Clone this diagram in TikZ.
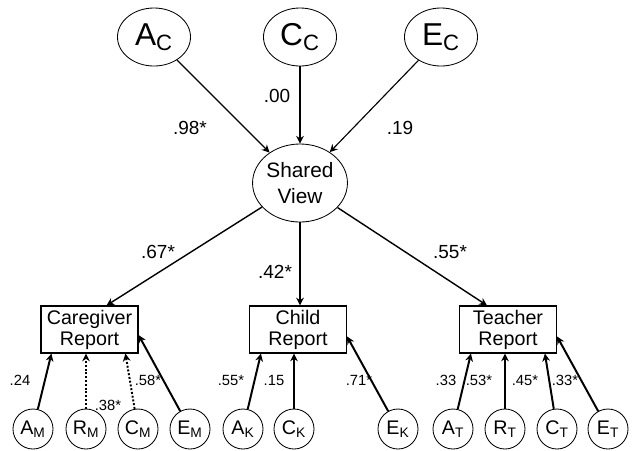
\documentclass[tikz,border=0pt]{standalone}
\usepackage{fontspec}
\setmainfont{Liberation Sans}
\usetikzlibrary{calc,shapes.geometric,arrows.meta}

\tikzset{
	topfac/.style={draw,semithick,ellipse,minimum width=1.825cm,minimum height=1.45cm,inner sep=0pt,font=\fontsize{22.5}{26}\selectfont},
	shared/.style={draw,semithick,ellipse,minimum width=2.3cm,minimum height=1.95cm,inner sep=0pt,align=center,font=\fontsize{14.8}{18}\selectfont},
	report/.style={draw,thick,rectangle,minimum width=2.425cm,minimum height=1.175cm,inner sep=0pt,align=center,font=\fontsize{14}{15}\selectfont},
	lowfac/.style={draw,semithick,circle,minimum size=1cm,inner sep=0pt,font=\fontsize{14}{16}\selectfont},
	arr/.style={-{Stealth[length=5.5pt,width=5.5pt]}},
	bigval/.style={inner sep=0pt,font=\fontsize{13.5}{16}\selectfont},
	smallval/.style={inner sep=0pt,font=\fontsize{10.5}{12}\selectfont},
	dots/.style={dash pattern=on 1.4pt off 1.3pt}
}

\begin{document}
\begin{tikzpicture}[x=0.025cm,y=-0.025cm]
	\useasboundingbox (0,0) rectangle (632,450);

	%common factors
	\node[topfac] (ac) at (154,37) {A\textsubscript{C}};
	\node[topfac] (cc) at (300,37) {C\textsubscript{C}};
	\node[topfac] (ec) at (441,37) {E\textsubscript{C}};
	\node[shared] (sv) at (300,183) {Shared\\View};

	\draw[arr,thick] (ac) -- (sv);
	\draw[arr,thick] (cc) -- (sv);
	\draw[arr,thick] (ec) -- (sv);
	\node[bigval] (vac) at (190,128) {.98*};
	\node[bigval] (vcc) at (277,96) {.00};
	\node[bigval] (vec) at (400,128) {.19};

	%reports
	\node[report] (care) at (89.5,329.5) {Caregiver\\Report};
	\node[report] (child) at (298,329.5) {Child\\Report};
	\node[report] (teach) at (508,329.5) {Teacher\\Report};

	\draw[arr,line width=1pt] (sv) -- ($(care.north)+(17,0)$);
	\draw[arr,line width=1pt] (sv) -- (sv |- child.north);
	\draw[arr,line width=1pt] (sv) -- ($(teach.north)+(-21,0)$);
	\node[bigval] (vcare) at (158,252) {.67*};
	\node[bigval] (vchild) at (275,272) {.42*};
	\node[bigval] (vteach) at (450,252) {.55*};

	%caregiver factors
	\node[lowfac] (am) at (33,429) {A\textsubscript{M}};
	\node[lowfac] (rm) at (86,429) {R\textsubscript{M}};
	\node[lowfac] (cm) at (138,429) {C\textsubscript{M}};
	\node[lowfac] (em) at (190,429) {E\textsubscript{M}};
	\draw[arr,line width=1.4pt] (am) -- ($(care.south west)+(11,0)$);
	\draw[arr,line width=1.4pt,dots] (rm) -- (rm |- care.south);
	\draw[arr,line width=1.4pt,dots] (cm) -- ($(care.south west)+(85,0)$);
	\draw[arr,line width=1.4pt] (em) -- ($(care.east)+(0,5.5)$);
	\node[smallval] (vam) at (20,380) {.24};
	\node[smallval] (vrm) at (108,405) {.38*};
	\node[smallval] (vem) at (148,380) {.58*};

	%child factors
	\node[lowfac] (ak) at (243,429) {A\textsubscript{K}};
	\node[lowfac] (ck) at (294,429) {C\textsubscript{K}};
	\node[lowfac] (ek) at (398,429) {E\textsubscript{K}};
	\draw[arr,line width=1.4pt] (ak) -- ($(child.south west)+(12,0)$);
	\draw[arr,line width=1.4pt] (ck) -- (ck |- child.south);
	\draw[arr,line width=1.4pt] (ek) -- ($(child.east)+(0,7)$);
	\node[smallval] (vak) at (231,380) {.55*};
	\node[smallval] (vck) at (274,380) {.15};
	\node[smallval] (vek) at (359,380) {.71*};

	%teacher factors
	\node[lowfac] (at) at (453,429) {A\textsubscript{T}};
	\node[lowfac] (rt) at (505,429) {R\textsubscript{T}};
	\node[lowfac] (ct) at (557,429) {C\textsubscript{T}};
	\node[lowfac] (et) at (608,429) {E\textsubscript{T}};
	\draw[arr,line width=1.4pt] (at) -- ($(teach.south west)+(12,0)$);
	\draw[arr,line width=1.4pt] (rt) -- (rt |- teach.south);
	\draw[arr,line width=1.4pt] (ct) -- ($(teach.south west)+(86,0)$);
	\draw[arr,line width=1.4pt] (et) -- ($(teach.east)+(0,7)$);
	\node[smallval] (vat) at (446,380) {.33};
	\node[smallval] (vat2) at (479,380) {.53*};
	\node[smallval] (vrt) at (525,380) {.45*};
	\node[smallval] (vct) at (565,380) {.33*};
\end{tikzpicture}
\end{document}
